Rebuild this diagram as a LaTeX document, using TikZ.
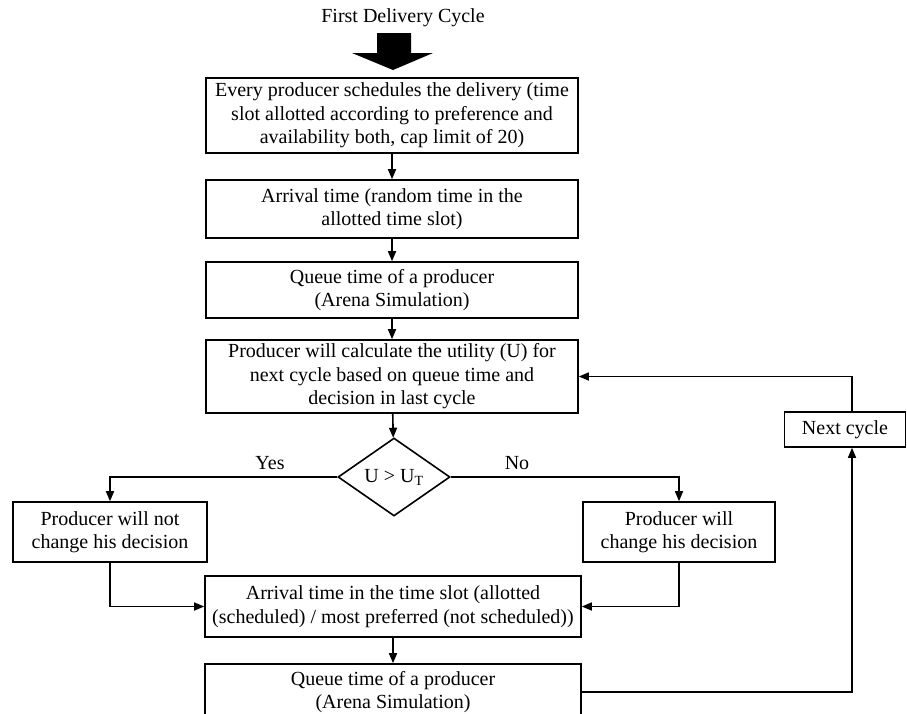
\documentclass[tikz,border=0pt]{standalone}
\usepackage{fontspec}
\setmainfont{Liberation Serif}
\usetikzlibrary{arrows.meta,shapes.geometric}

\begin{document}
\begin{tikzpicture}[x=1pt,y=-1pt]
    \tikzstyle{box}=[draw, line width=1.6pt, align=center, minimum width=372pt, inner sep=2pt, font=\fontsize{20}{23.5}\selectfont]
    \tikzstyle{link}=[line width=1.6pt, -{Triangle[length=10pt,width=8pt]}]
    \tikzstyle{label}=[font=\fontsize{20}{23.5}\selectfont]

    \useasboundingbox (0,0) rectangle (907,713);
    \clip (0,0) rectangle (907,713);

    \node[label] (title) at (403,18) {First Delivery Cycle};
    \fill (377,33) -- (411,33) -- (411,53) -- (433,53) -- (393,70) -- (352,53) -- (377,53) -- cycle;

    \node[box, minimum height=75pt] (sched) at (392,115.5) {Every producer schedules the delivery (time\\slot allotted according to preference and\\availability both, cap limit of 20)};
    \node[box, minimum height=58pt] (arrive) at (392,209) {Arrival time (random time in the\\allotted time slot)};
    \node[box, minimum height=56pt] (queue) at (392,290) {Queue time of a producer\\(Arena Simulation)};
    \node[box, minimum height=73pt] (utility) at (392,376.5) {Producer will calculate the utility (U) for\\next cycle based on queue time and\\decision in last cycle};
    \node[draw, diamond, line width=1.6pt, inner sep=0pt, aspect=1.4, minimum width=112pt, minimum height=78pt, label] (test) at (394,477) {U > U\textsubscript{T}};

    \node[box, minimum width=194pt, minimum height=60pt] (keep) at (110,532) {Producer will not\\change his decision};
    \node[box, minimum width=192pt, minimum height=60pt] (change) at (679,532) {Producer will\\change his decision};
    \node[box, minimum width=376pt, minimum height=61pt] (arrive2) at (393,606.5) {Arrival time in the time slot (allotted\\(scheduled) / most preferred (not scheduled))};
    \node[box, minimum width=376pt, minimum height=56pt] (queue2) at (393,692) {Queue time of a producer\\(Arena Simulation)};
    \node[box, minimum width=121pt, minimum height=35pt] (next) at (845,429.5) {Next cycle};

    \node[label] (yes) at (270,463) {Yes};
    \node[label] (no) at (517,463) {No};

    \draw[link] (sched) -- (arrive);
    \draw[link] (arrive) -- (queue);
    \draw[link] (queue) -- (utility);
    \draw[link] (utility) -- (test);
    \draw[link] (test.west) -| (keep.north);
    \draw[link] (test.east) -| (change.north);
    \draw[link] (keep.south) |- (arrive2.west);
    \draw[link] (change.south) |- (arrive2.east);
    \draw[link] (arrive2) -- (queue2);
    \draw[link] (queue2.east) -| ([xshift=7pt]next.south);
    \draw[link] ([xshift=7pt]next.north) |- (utility.east);
\end{tikzpicture}
\end{document}
